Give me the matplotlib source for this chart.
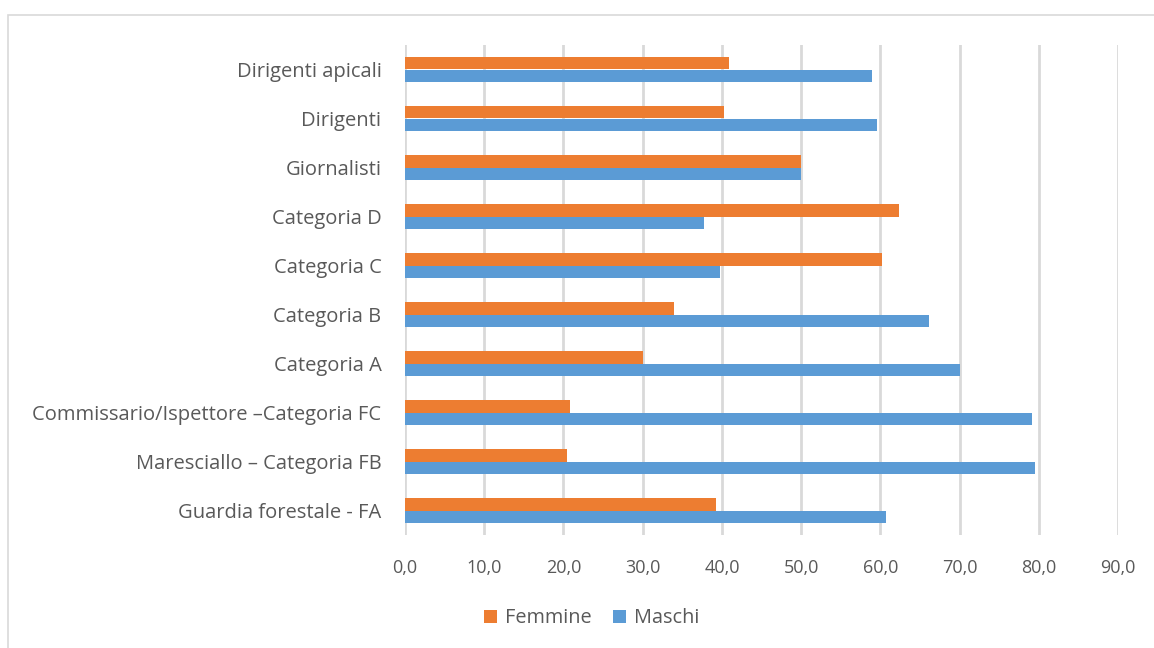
import numpy as np
import matplotlib
matplotlib.use("Agg")
import matplotlib.pyplot as plt
from matplotlib.patches import Rectangle

categories = ["Dirigenti apicali", "Dirigenti", "Giornalisti", "Categoria D", "Categoria C",
              "Categoria B", "Categoria A", "Commissario/Ispettore \u2013Categoria FC",
              "Maresciallo \u2013 Categoria FB", "Guardia forestale - FA"]
femmine = [40.9, 40.3, 50.0, 62.3, 60.2, 33.9, 30.0, 20.8, 20.5, 39.3]
maschi = [59.0, 59.6, 50.0, 37.7, 39.8, 66.1, 70.0, 79.2, 79.5, 60.7]
xticks = [0, 10, 20, 30, 40, 50, 60, 70, 80, 90]

plt.rcParams['font.family'] = ['Open Sans', 'DejaVu Sans']
text_col = '#595959'
orange = '#ED7D31'
blue = '#5B9BD5'

fig = plt.figure(figsize=(11.54, 6.48), dpi=100)
# light frame around the chart area
fig.patches.append(Rectangle((8 / 1154, -0.1), 1.2, 1 - 15 / 648 + 0.1, transform=fig.transFigure,
                             fill=False, edgecolor='#D9D9D9', linewidth=1.2))
ax = fig.add_axes([405 / 1154, 1 - 535 / 648, (1118 - 405) / 1154, (535 - 45) / 648])

y = np.arange(len(categories))
h = 0.265
ax.barh(y - h / 2, femmine, height=h, color=orange, label='Femmine', zorder=3)
ax.barh(y + h / 2, maschi, height=h, color=blue, label='Maschi', zorder=3)

ax.set_ylim(len(categories) - 0.5, -0.5)
ax.set_xlim(0, 90)
ax.set_yticks(y)
ax.set_yticklabels(categories, fontsize=14.5, color=text_col)
ax.set_xticks(xticks)
ax.set_xticklabels([f"{v:.1f}".replace('.', ',') for v in xticks], fontsize=13, color=text_col)
ax.tick_params(length=0)
ax.tick_params(axis='y', pad=17)
ax.tick_params(axis='x', pad=17)
ax.grid(axis='x', color='#D9D9D9', linewidth=2, zorder=0)
for s in ax.spines.values():
    s.set_visible(False)

ax.legend(loc='center', bbox_to_anchor=(0.262, -0.17), ncol=2, frameon=False,
          fontsize=14.3, labelcolor=text_col, handlelength=0.65, handleheight=0.65,
          handletextpad=0.4, columnspacing=1.1)

fig.savefig('out.png', dpi=100)
